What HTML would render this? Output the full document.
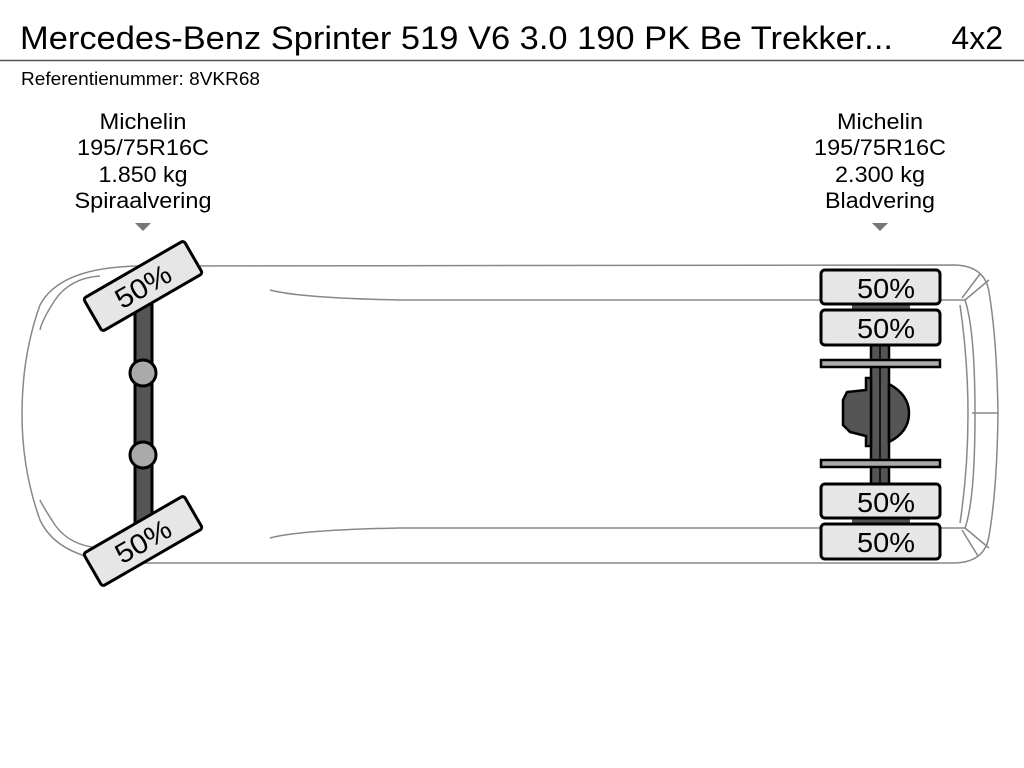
<!DOCTYPE html>
<html><head><meta charset="utf-8"><style>
html,body{margin:0;padding:0;background:#fff;width:1024px;height:768px;overflow:hidden}
svg{display:block}
text{font-family:"Liberation Sans",sans-serif;fill:#000}
</style></head><body>
<svg width="1024" height="768" viewBox="0 0 1024 768">
<text x="20" y="49" font-size="32" textLength="873" lengthAdjust="spacingAndGlyphs">Mercedes-Benz Sprinter 519 V6 3.0 190 PK Be Trekker...</text>
<text x="1003" y="49" font-size="32" text-anchor="end">4x2</text>
<line x1="0" y1="60.5" x2="1024" y2="60.5" stroke="#555" stroke-width="1.5"/>
<text x="21" y="85" font-size="18" textLength="239" lengthAdjust="spacingAndGlyphs">Referentienummer: 8VKR68</text>

<g font-size="22" text-anchor="middle">
<text x="143" y="129" textLength="87" lengthAdjust="spacingAndGlyphs">Michelin</text><text x="143" y="155" textLength="132" lengthAdjust="spacingAndGlyphs">195/75R16C</text><text x="143" y="182" textLength="89" lengthAdjust="spacingAndGlyphs">1.850 kg</text><text x="143" y="208" textLength="137" lengthAdjust="spacingAndGlyphs">Spiraalvering</text>
<text x="880" y="129" textLength="86" lengthAdjust="spacingAndGlyphs">Michelin</text><text x="880" y="155" textLength="132" lengthAdjust="spacingAndGlyphs">195/75R16C</text><text x="880" y="182" textLength="90" lengthAdjust="spacingAndGlyphs">2.300 kg</text><text x="880" y="208" textLength="110" lengthAdjust="spacingAndGlyphs">Bladvering</text>
</g>
<polygon points="135,223 151,223 143,231" fill="#777"/>
<polygon points="872,223 888,223 880,231" fill="#777"/>

<g fill="none" stroke="#888" stroke-width="1.5">
<path d="M140,266 L955,265 Q985,266 989,292 Q997,340 998,414 Q997,490 989,536 Q985,562 955,563 L140,563 Q60,563 40,520 Q22,470 22,414 Q22,355 40,305 Q60,267 140,266 Z"/>
<path d="M100,276 Q70,278 55,300 Q42,320 40,330"/>
<path d="M100,548 Q70,546 55,525 Q42,505 40,500"/>
<path d="M270,290 Q300,298 400,300 L965,300 Q975,330 975,414 Q975,500 965,528 L400,528 Q300,530 270,538"/>
<path d="M965,300 L989,280 M962,298 L980,274 M965,528 L989,548 M962,530 L978,556 M960,305 Q968,360 968,414 Q968,470 960,523"/>
<line x1="972" y1="413" x2="998" y2="413"/>
</g>

<rect x="135" y="295" width="17" height="235" fill="#555" stroke="#000" stroke-width="3"/>
<circle cx="143" cy="373" r="13" fill="#aaa" stroke="#000" stroke-width="3"/>
<circle cx="143" cy="455" r="13" fill="#aaa" stroke="#000" stroke-width="3"/>
<g transform="translate(143,286) rotate(-30)">
<rect x="-58" y="-19" width="116" height="38" rx="3" fill="#e6e6e6" stroke="#000" stroke-width="3"/>
<text x="0" y="10" font-size="28" text-anchor="middle" textLength="60" lengthAdjust="spacingAndGlyphs">50%</text></g>
<g transform="translate(143,541) rotate(-30)">
<rect x="-58" y="-19" width="116" height="38" rx="3" fill="#e6e6e6" stroke="#000" stroke-width="3"/>
<text x="0" y="10" font-size="28" text-anchor="middle" textLength="60" lengthAdjust="spacingAndGlyphs">50%</text></g>

<rect x="871" y="343" width="18" height="143" fill="#555" stroke="#000" stroke-width="2.5"/>
<line x1="880" y1="343" x2="880" y2="486" stroke="#000" stroke-width="1.5"/>
<path d="M871,378 L866,378 L866,390 L847,392 L843,400 L843,425 L850,432 L866,436 L866,446 L871,446 Z" fill="#555" stroke="#000" stroke-width="2.5"/>
<path d="M889,384 Q909,395 909,413 Q909,432 889,442 Z" fill="#555" stroke="#000" stroke-width="2.5"/>
<rect x="821" y="360" width="119" height="7" fill="#aaa" stroke="#000" stroke-width="2.5"/>
<rect x="821" y="460" width="119" height="7" fill="#aaa" stroke="#000" stroke-width="2.5"/>
<rect x="852" y="302" width="58" height="8" fill="#555"/>
<rect x="852" y="517" width="58" height="8" fill="#555"/>
<g fill="#e6e6e6" stroke="#000" stroke-width="3">
<rect x="821" y="270" width="119" height="34" rx="4"/>
<rect x="821" y="310" width="119" height="35" rx="4"/>
<rect x="821" y="484" width="119" height="34" rx="4"/>
<rect x="821" y="524" width="119" height="35" rx="4"/>
</g>
<g font-size="28" text-anchor="middle">
<text x="886" y="298" textLength="58" lengthAdjust="spacingAndGlyphs">50%</text><text x="886" y="338" textLength="58" lengthAdjust="spacingAndGlyphs">50%</text>
<text x="886" y="512" textLength="58" lengthAdjust="spacingAndGlyphs">50%</text><text x="886" y="552" textLength="58" lengthAdjust="spacingAndGlyphs">50%</text>
</g>
</svg>
</body></html>
